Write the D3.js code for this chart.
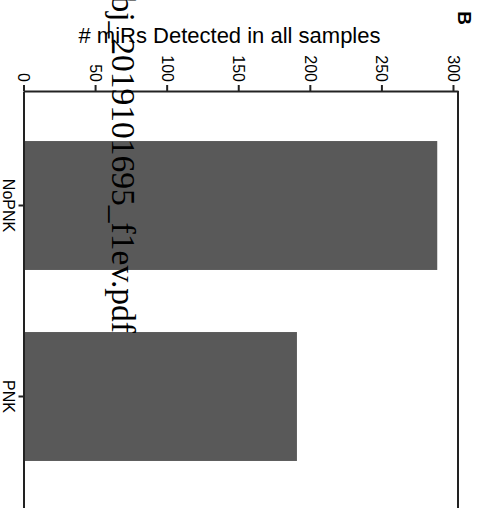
<!DOCTYPE html>
<html>
<head>
<meta charset="utf-8">
<title>miRs detected</title>
<script src="https://cdn.jsdelivr.net/npm/d3@7"></script>
<style>
  body { margin: 0; background: #fff; }
  svg { display: block; font-family: "Liberation Sans", Arial, sans-serif; }
</style>
</head>
<body>
<div id="chart"></div>
<script>
  // data
  var groups = ['NoPNK', 'PNK'];
  var counts = [289, 191];
  var ticks = [0, 50, 100, 150, 200, 250, 300];

  var width = 493, height = 508;

  var svg = d3.select('#chart')
    .append('svg')
    .attr('width', width)
    .attr('height', height);

  var x = d3.scaleLinear()
    .domain([0, 303.5])
    .range([23.5, 458]);

  var y = d3.scaleBand()
    .domain(groups)
    .range([91, 511])
    .paddingInner(0.325)
    .paddingOuter(0.262);

  // bars
  svg.selectAll('rect.bar')
    .data(groups)
    .enter()
    .append('rect')
    .attr('class', 'bar')
    .attr('x', x(0))
    .attr('y', function(d) { return y(d); })
    .attr('width', function(d, i) { return x(counts[i]) - x(0); })
    .attr('height', y.bandwidth())
    .attr('fill', '#595959');

  // value axis along the top
  var valueAxis = svg.append('g')
    .attr('transform', 'translate(0,91)')
    .call(d3.axisTop(x).tickValues(ticks).tickSize(6).tickSizeOuter(0));

  valueAxis.selectAll('.tick text')
    .attr('x', 0)
    .attr('y', 0)
    .attr('dy', '0.35em')
    .attr('text-anchor', 'end')
    .attr('transform', 'translate(0,-9) rotate(90)')
    .style('font-size', '16px');

  // category axis on the left
  var groupAxis = svg.append('g')
    .attr('transform', 'translate(23.5,0)')
    .call(d3.axisLeft(y).tickSize(5).tickSizeOuter(0));

  groupAxis.selectAll('.tick text')
    .attr('x', 0)
    .attr('y', 0)
    .attr('dy', 0)
    .attr('text-anchor', 'middle')
    .attr('transform', 'translate(-20.5,0) rotate(90)')
    .style('font-size', '16px');

  svg.selectAll('.domain, .tick line')
    .attr('stroke', '#222')
    .attr('stroke-width', 2);
  svg.selectAll('.tick text').attr('fill', '#000');

  // right frame line
  svg.append('line')
    .attr('x1', x.range()[1]).attr('x2', x.range()[1])
    .attr('y1', 91).attr('y2', y.range()[1])
    .attr('stroke', '#222')
    .attr('stroke-width', 2);

  // title
  svg.append('text')
    .attr('x', 229.5)
    .attr('y', 43)
    .attr('text-anchor', 'middle')
    .style('font-size', '22px')
    .text('# miRs Detected in all samples');

  // panel letter
  svg.append('text')
    .attr('transform', 'translate(458,18) rotate(90)')
    .attr('text-anchor', 'middle')
    .style('font-size', '19px')
    .style('font-weight', 'bold')
    .text('B');

  // file name stamp over the figure
  svg.append('text')
    .attr('transform', 'translate(112,333) rotate(90)')
    .attr('text-anchor', 'end')
    .style('font-family', '"Liberation Serif", "Times New Roman", serif')
    .style('font-size', '33.5px')
    .text('bj_2019101695_f1ev.pdf');
</script>
</body>
</html>
